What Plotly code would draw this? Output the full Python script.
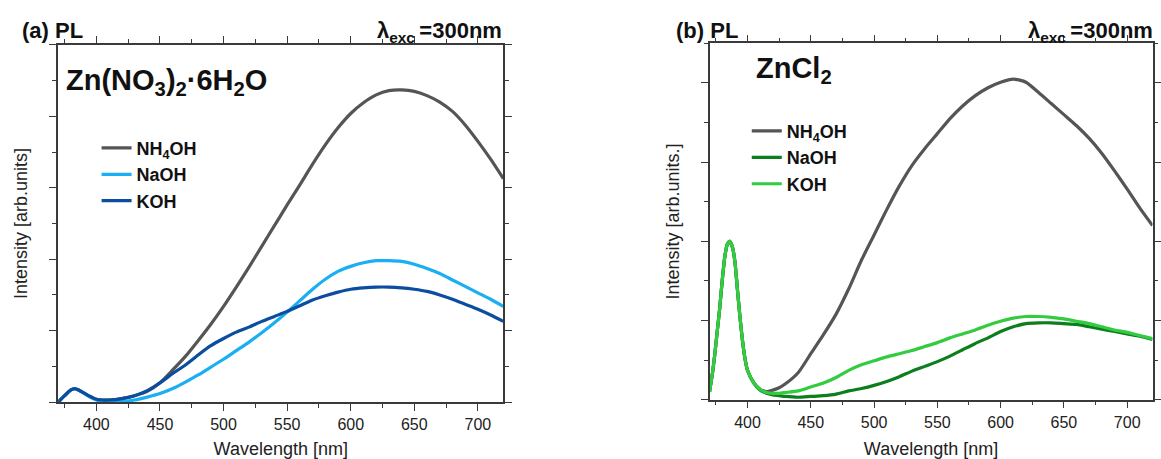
import plotly.graph_objects as go

W, H = 1161, 459

# ---------------- panel (a): Zn(NO3)2·6H2O ----------------
wl_a = [370, 375, 380, 383, 386, 390, 395, 400, 405, 410, 420, 430, 440, 450, 460, 470,
        480, 490, 500, 510, 520, 530, 540, 550, 560, 570, 580, 590, 600, 610, 620, 630,
        640, 650, 660, 670, 680, 690, 700, 710, 720]
nh4oh_a = [0.00, 0.09, 0.17, 0.19, 0.17, 0.13, 0.08, 0.04, 0.03, 0.03, 0.05, 0.09, 0.15, 0.27, 0.45, 0.64,
           0.86, 1.09, 1.34, 1.61, 1.89, 2.18, 2.47, 2.76, 3.04, 3.33, 3.60, 3.84, 4.04, 4.19, 4.30, 4.36,
           4.37, 4.35, 4.29, 4.20, 4.07, 3.88, 3.65, 3.40, 3.13]
naoh_a = [0.00, 0.09, 0.17, 0.19, 0.17, 0.13, 0.07, 0.03, 0.01, 0.00, 0.01, 0.03, 0.07, 0.12, 0.19, 0.28,
          0.38, 0.49, 0.60, 0.72, 0.84, 0.97, 1.11, 1.26, 1.42, 1.58, 1.72, 1.83, 1.90, 1.95, 1.98, 1.98,
          1.97, 1.93, 1.87, 1.80, 1.71, 1.62, 1.53, 1.44, 1.34]
koh_a = [0.00, 0.09, 0.17, 0.19, 0.17, 0.13, 0.08, 0.04, 0.03, 0.03, 0.05, 0.09, 0.16, 0.27, 0.40, 0.52,
         0.66, 0.79, 0.89, 0.98, 1.05, 1.13, 1.20, 1.27, 1.35, 1.43, 1.49, 1.54, 1.58, 1.60, 1.61, 1.61,
         1.60, 1.58, 1.55, 1.50, 1.44, 1.37, 1.30, 1.22, 1.13]

# ---------------- panel (b): ZnCl2 ----------------
wl_b = [370, 372, 374, 376, 378, 380, 382, 384, 386, 388, 390, 392, 394, 396, 398, 400, 405, 410,
        415, 420, 425, 430, 440, 450, 460, 470, 480, 490, 500, 510, 520, 530, 540, 550, 560, 570,
        580, 590, 600, 610, 620, 630, 640, 650, 660, 670, 680, 690, 700, 710, 720]
nh4oh_b = [0.10, 0.30, 0.55, 0.85, 1.15, 1.50, 1.80, 1.96, 2.00, 1.93, 1.75, 1.40, 1.05, 0.75, 0.52, 0.37, 0.21, 0.13,
           0.10, 0.12, 0.15, 0.20, 0.34, 0.58, 0.82, 1.08, 1.40, 1.76, 2.08, 2.40, 2.70, 2.96, 3.17, 3.36, 3.55, 3.71,
           3.84, 3.94, 4.01, 4.05, 4.01, 3.88, 3.74, 3.60, 3.46, 3.30, 3.11, 2.89, 2.66, 2.42, 2.20]
naoh_b = [0.10, 0.30, 0.55, 0.85, 1.15, 1.50, 1.80, 1.96, 2.00, 1.93, 1.75, 1.40, 1.05, 0.75, 0.52, 0.37, 0.21, 0.12,
          0.08, 0.06, 0.05, 0.04, 0.03, 0.04, 0.05, 0.07, 0.11, 0.14, 0.18, 0.23, 0.29, 0.36, 0.42, 0.48, 0.55, 0.63,
          0.71, 0.78, 0.86, 0.92, 0.96, 0.97, 0.97, 0.96, 0.95, 0.92, 0.89, 0.86, 0.83, 0.80, 0.76]
koh_b = [0.10, 0.30, 0.55, 0.85, 1.15, 1.50, 1.80, 1.96, 2.00, 1.93, 1.75, 1.40, 1.05, 0.75, 0.52, 0.37, 0.21, 0.13,
         0.09, 0.08, 0.08, 0.09, 0.11, 0.16, 0.21, 0.28, 0.37, 0.44, 0.49, 0.54, 0.58, 0.62, 0.67, 0.72, 0.78, 0.83,
         0.88, 0.94, 0.99, 1.03, 1.05, 1.05, 1.04, 1.02, 0.99, 0.96, 0.92, 0.88, 0.85, 0.81, 0.77]

x_ticks = [400, 450, 500, 550, 600, 650, 700]

GRAY = "#555555"
LBLUE = "#1aaef2"
DBLUE = "#0b4d9e"
DGREEN = "#0a7f1c"
LGREEN = "#33cc40"

FONT = "Liberation Sans, Arial, sans-serif"

fig = go.Figure()

def add(x, y, name, color, xa, ya, legend):
    fig.add_trace(go.Scatter(x=x, y=y, name=name, mode="lines",
                             line=dict(color=color, width=3.2, shape="spline", smoothing=0.6),
                             xaxis=xa, yaxis=ya, legend=legend, hoverinfo="skip"))

add(wl_a, nh4oh_a, "<b>NH<sub>4</sub>OH</b>", GRAY, "x", "y", "legend")
add(wl_a, naoh_a, "<b>NaOH</b>", LBLUE, "x", "y", "legend")
add(wl_a, koh_a, "<b>KOH</b>", DBLUE, "x", "y", "legend")
add(wl_b, nh4oh_b, "<b>NH<sub>4</sub>OH</b>", GRAY, "x2", "y2", "legend2")
add(wl_b, naoh_b, "<b>NaOH</b>", DGREEN, "x2", "y2", "legend2")
add(wl_b, koh_b, "<b>KOH</b>", LGREEN, "x2", "y2", "legend2")

def px_x(p):
    return p / W

def px_y(p):
    return 1 - p / H

axis_common = dict(showgrid=False, zeroline=False, showline=True, linecolor="#3a3a3a", linewidth=1.5,
                   mirror="ticks", ticks="outside", ticklen=7, tickwidth=1.3, tickcolor="#3a3a3a")

xaxis_common = dict(axis_common, range=[370, 720], tickvals=x_ticks,
                    minor=dict(dtick=25, tick0=375, ticks="outside", ticklen=4, tickwidth=1.2, tickcolor="#3a3a3a"),
                    tickfont=dict(family=FONT, size=16, color="#222222"),
                    title=dict(text="Wavelength [nm]", font=dict(family=FONT, size=18, color="#222222"), standoff=13))

fig.update_layout(
    width=W, height=H, margin=dict(l=0, r=0, t=0, b=0),
    paper_bgcolor="white", plot_bgcolor="white",
    font=dict(family=FONT, color="#111111"),
    xaxis=dict(xaxis_common, domain=[px_x(58.5), px_x(505.5)], anchor="y"),
    yaxis=dict(axis_common, domain=[px_y(403), px_y(45)], range=[0, 5], dtick=1, showticklabels=False,
               minor=dict(dtick=0.5, ticks="outside", ticklen=4, tickwidth=1.2, tickcolor="#3a3a3a"),
               anchor="x",
               title=dict(text="Intensity [arb.units]", font=dict(family=FONT, size=18, color="#222222"), standoff=17)),
    xaxis2=dict(xaxis_common, domain=[px_x(712.6), px_x(1157.5)], anchor="y2"),
    yaxis2=dict(axis_common, domain=[px_y(400.5), px_y(43.5)], range=[0, 4.5], dtick=1, showticklabels=False,
                minor=dict(dtick=0.5, ticks="outside", ticklen=4, tickwidth=1.2, tickcolor="#3a3a3a"),
                anchor="x2",
                title=dict(text="Intensity [arb.units.]", font=dict(family=FONT, size=18, color="#222222"), standoff=16)),
    legend=dict(x=px_x(97), y=px_y(130), xanchor="left", yanchor="top", bgcolor="rgba(0,0,0,0)",
                font=dict(family=FONT, size=18, color="#111111"), tracegroupgap=0),
    legend2=dict(x=px_x(750), y=px_y(113), xanchor="left", yanchor="top", bgcolor="rgba(0,0,0,0)",
                 font=dict(family=FONT, size=18, color="#111111"), tracegroupgap=0),
    showlegend=True,
)

ann_font = dict(family=FONT, size=22, color="#111111")
lam = "<b>λ<sub>exc</sub>\u2009=300nm</b>"
fig.add_annotation(text="<b>(a) PL</b>", x=px_x(20), y=px_y(31), xref="paper", yref="paper",
                   xanchor="left", yanchor="middle", showarrow=False, font=ann_font)
fig.add_annotation(text=lam, x=px_x(506), y=px_y(32), xref="paper", yref="paper",
                   xanchor="right", yanchor="middle", showarrow=False, font=ann_font)
fig.add_annotation(text="<b>(b) PL</b>", x=px_x(677), y=px_y(31), xref="paper", yref="paper",
                   xanchor="left", yanchor="middle", showarrow=False, font=ann_font)
fig.add_annotation(text=lam, x=px_x(1160), y=px_y(32), xref="paper", yref="paper",
                   xanchor="right", yanchor="middle", showarrow=False, font=ann_font)
fig.add_annotation(text="<b>Zn(NO<sub>3</sub>)<sub>2</sub>·6H<sub>2</sub>O</b>", x=px_x(64), y=px_y(82),
                   xref="paper", yref="paper", xanchor="left", yanchor="middle", showarrow=False,
                   font=dict(family=FONT, size=29, color="#111111"))
fig.add_annotation(text="<b>ZnCl<sub>2</sub></b>", x=px_x(757), y=px_y(70),
                   xref="paper", yref="paper", xanchor="left", yanchor="middle", showarrow=False,
                   font=dict(family=FONT, size=29, color="#111111"))

fig.write_html("out.html")
